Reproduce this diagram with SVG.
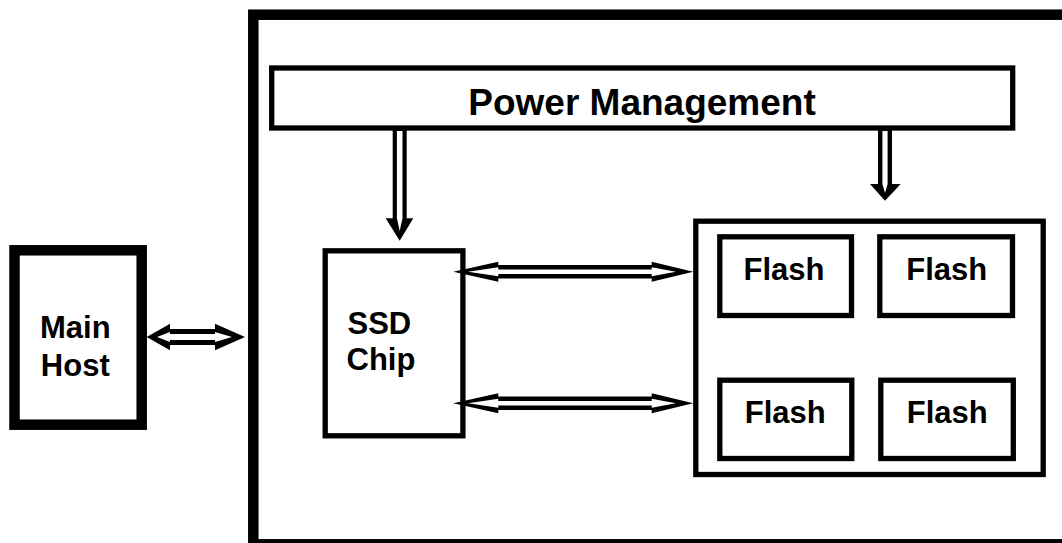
<svg xmlns="http://www.w3.org/2000/svg" width="1062" height="543" viewBox="0 0 1062 543">
<style>
.box{fill:none;stroke:#000;stroke-linejoin:miter}
.thick{stroke-width:10.5}
.thin{stroke-width:5.3}
.lbl{font-family:"Liberation Sans",Arial,sans-serif;font-weight:bold;fill:#000}
.ao{fill:#000}
.ai{fill:#fff}
</style>
<rect width="1062" height="543" fill="#fff"/>
<g id="ssd-drive">
<rect class="box thick" x="253.3" y="14.7" width="900" height="529.6"/>
</g>
<g id="power-management">
<rect class="box thin" x="271.7" y="68" width="741" height="60"/>
<text class="lbl" x="642" y="115" font-size="37" text-anchor="middle">Power Management</text>
</g>
<g id="main-host">
<rect class="box thick" x="14.5" y="250.3" width="127.2" height="174.4"/>
<text class="lbl" x="75.3" y="338.3" font-size="31" text-anchor="middle">Main</text>
<text class="lbl" x="75.3" y="375.7" font-size="31" text-anchor="middle">Host</text>
</g>
<g id="ssd-chip">
<rect class="box thin" x="325.2" y="250.8" width="137.7" height="185"/>
<text class="lbl" x="347.5" y="334" font-size="31">SSD</text>
<text class="lbl" x="346.5" y="370" font-size="31">Chip</text>
</g>
<g id="flash-array">
<rect class="box thin" x="695.8" y="221.2" width="347.4" height="253.3"/>
</g>
<g id="flash-1">
<rect class="box thin" x="719.8" y="236.8" width="131.7" height="78.7"/>
<text class="lbl" x="784" y="280" font-size="31" text-anchor="middle">Flash</text>
</g>
<g id="flash-2">
<rect class="box thin" x="879.8" y="236.8" width="132.7" height="78.7"/>
<text class="lbl" x="946.7" y="280" font-size="31" text-anchor="middle">Flash</text>
</g>
<g id="flash-3">
<rect class="box thin" x="719.8" y="380.2" width="132" height="78.3"/>
<text class="lbl" x="785.3" y="422.7" font-size="31" text-anchor="middle">Flash</text>
</g>
<g id="flash-4">
<rect class="box thin" x="880.8" y="380.2" width="132.5" height="78.3"/>
<text class="lbl" x="947.3" y="422.7" font-size="31" text-anchor="middle">Flash</text>
</g>
<g id="connectors">
<g id="pm-to-chip">
<polygon class="ao" points="392.7,128 406.7,128 406.7,218.3 413.3,218.3 399.7,240.7 385.7,218.3 392.7,218.3"/>
<polygon class="ai" points="396.9,131 402.5,131 402.5,218.3 399.7,231 396.9,218.3"/>
</g>
<g id="pm-to-flash">
<polygon class="ao" points="878,128 892,128 892,184 900.7,184 885,200.7 870,184 878,184"/>
<polygon class="ai" points="882.4,131 887.6,131 887.6,184 885,193 882.4,184"/>
</g>
<g id="host-to-drive">
<polygon class="ao" points="146.7,337 170,323.7 170,329 215,329 215,323.7 245,337 215,350.3 215,345 170,345 170,350.3"/>
<polygon class="ai" points="157,337 170,332 170,334 215,334 215,332 232,337 215,342 215,340 170,340 170,342"/>
</g>
<g id="chip-flash-top">
<polygon class="ao" points="453.3,271.7 498.3,261.7 498.3,265 651.7,265 651.7,261.7 693.3,271.7 651.7,281.7 651.7,278.4 498.3,278.4 498.3,281.7"/>
<polygon class="ai" points="468,271.7 498.3,267.2 498.3,269.5 651.7,269.5 651.7,267.2 676,271.7 651.7,276.2 651.7,273.9 498.3,273.9 498.3,276.2"/>
</g>
<g id="chip-flash-bottom">
<polygon class="ao" points="453.3,403.3 498.3,393.3 498.3,396.6 651.7,396.6 651.7,393.3 693.3,403.3 651.7,413.3 651.7,410 498.3,410 498.3,413.3"/>
<polygon class="ai" points="468,403.3 498.3,398.8 498.3,401.1 651.7,401.1 651.7,398.8 676,403.3 651.7,407.8 651.7,405.5 498.3,405.5 498.3,407.8"/>
</g>
</g>
</svg>
